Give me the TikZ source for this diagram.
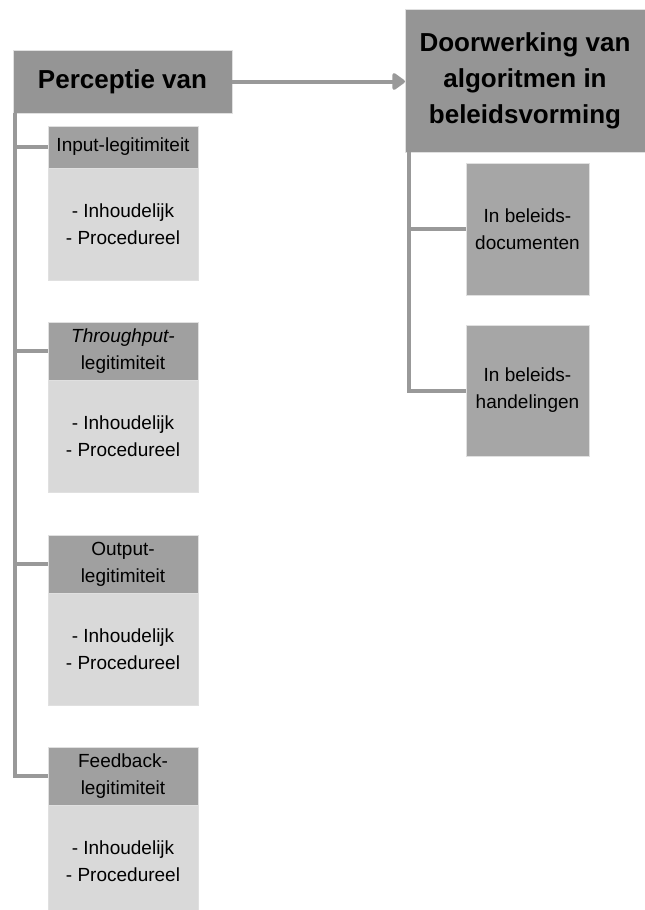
\documentclass[tikz,border=0pt]{standalone}
\usepackage{fontspec}
\setmainfont{Liberation Sans}
\usetikzlibrary{positioning,arrows.meta}
\tikzstyle{diagram} = [x = 1pt, y = -1pt]
\definecolor{titleColor}{HTML}{959595}
\definecolor{headerColor}{HTML}{A0A0A0}
\definecolor{subColor}{HTML}{A6A6A6}
\definecolor{bodyColor}{HTML}{D9D9D9}
\definecolor{lineColor}{HTML}{999999}
\tikzstyle{boxStyle} = [anchor=north west, inner sep=0pt, outer sep=0pt, align=center, draw=white!88!black, line width=.6pt]
\tikzstyle{titleBox} = [boxStyle, fill=titleColor, font=\fontsize{26}{36}\selectfont\bfseries]
\tikzstyle{headerBox} = [boxStyle, fill=headerColor, minimum width=150pt, font=\fontsize{19}{27}\selectfont]
\tikzstyle{bodyBox} = [boxStyle, fill=bodyColor, minimum width=150pt, minimum height=112pt, font=\fontsize{19}{27}\selectfont]
\tikzstyle{subBox} = [boxStyle, fill=subColor, minimum width=123pt, font=\fontsize{19}{27}\selectfont]
\tikzstyle{branchLine} = [color=lineColor, line width=4pt]
\tikzstyle{mainArrow} = [branchLine, -{Triangle[width=19pt,length=14pt,round]}]
% name, top, header height, header text
\newcommand{\legitimiteit}[4]{
  \node [headerBox, minimum height=#3pt] (#1) at (48, #2) {#4};
  \node [bodyBox] (#1Body) at (#1.south west) {- Inhoudelijk\\- Procedureel};
}

\begin{document}
\begin{tikzpicture}[diagram]
  \useasboundingbox (0,0) rectangle (645,910);
  % left column
  \node [titleBox, minimum width=219pt, minimum height=63pt] (perceptie) at (13,50) {Perceptie van};
  \legitimiteit{input}{126}{42}{Input-legitimiteit}
  \legitimiteit{throughput}{322}{58}{{\itshape Throughput-}\\legitimiteit}
  \legitimiteit{output}{535}{58}{Output-\\legitimiteit}
  \legitimiteit{feedback}{747}{58}{Feedback-\\legitimiteit}
  \foreach \item in {input, throughput, output, feedback} {
    \draw [branchLine] ([xshift=2pt]perceptie.south west) |- (\item.west);
  }
  % right column
  \node [titleBox, minimum width=240pt, minimum height=143pt] (doorwerking) at (405,9) {Doorwerking van\\algoritmen in\\beleidsvorming};
  \node [subBox, minimum height=132pt] (documenten) at (466,163) {In beleids-\\documenten};
  \node [subBox, minimum height=131pt] (handelingen) at (466,325) {In beleids-\\handelingen};
  \foreach \item in {documenten, handelingen} {
    \draw [branchLine] ([xshift=4pt]doorwerking.south west) |- (\item.west);
  }
  \draw [mainArrow] (perceptie.east) -- (perceptie.east -| doorwerking.west);
\end{tikzpicture}
\end{document}
